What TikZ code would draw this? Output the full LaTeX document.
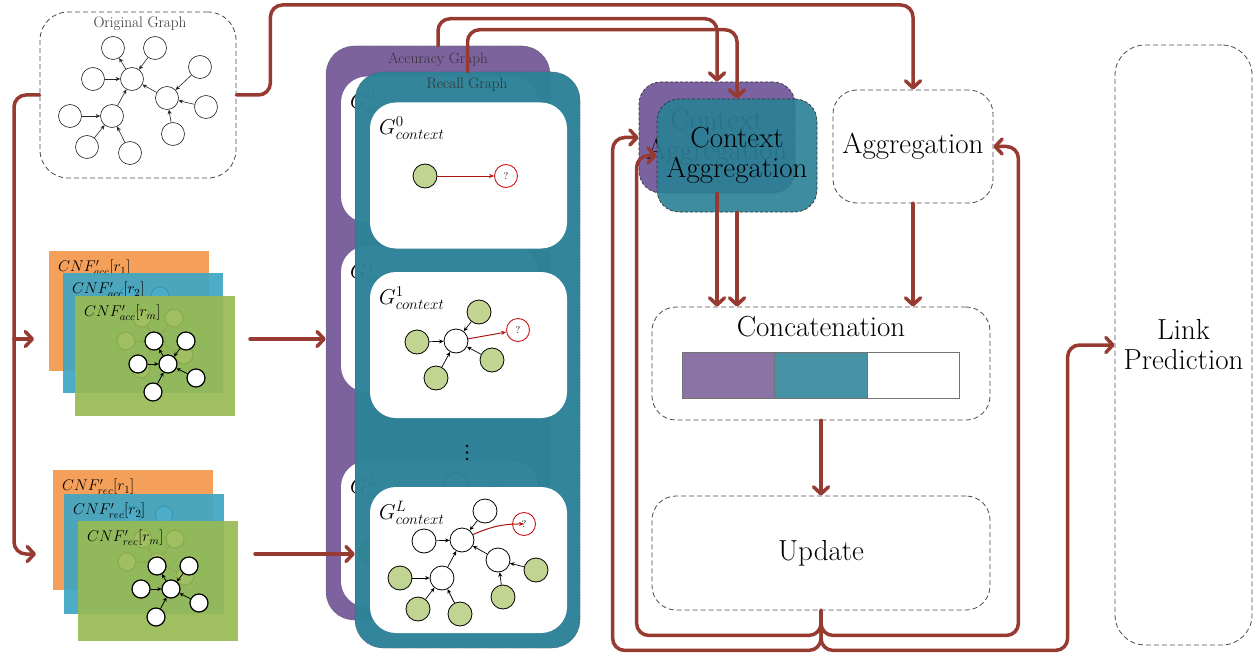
\documentclass[tikz,border=0pt]{standalone}
\DeclareFontShape{OML}{cmm}{m}{it}{<-6>cmmi5<6-7>cmmi6<7-8>cmmi7<8-9>cmmi8<9-10>cmmi9<10-12>cmmi10<12->cmmi12}{}
\DeclareFontShape{OMS}{cmsy}{m}{n}{<-6>cmsy5<6-7>cmsy6<7-8>cmsy7<8-9>cmsy8<9-10>cmsy9<10->cmsy10}{}
\DeclareFontShape{OT1}{cmr}{m}{n}{<-6>cmr5<6-7>cmr6<7-8>cmr7<8-9>cmr8<9-10>cmr9<10-12>cmr10<12-17>cmr12<17->cmr17}{}
\usetikzlibrary{arrows.meta,calc}
\definecolor{conncol}{RGB}{150,58,50}
\definecolor{accpurple}{RGB}{124,99,158}
\definecolor{recteal}{RGB}{44,130,151}
\definecolor{capurple}{RGB}{123,98,160}
\definecolor{cateal}{RGB}{42,128,149}
\definecolor{lorange}{RGB}{245,160,90}
\definecolor{lblue}{RGB}{62,166,196}
\definecolor{lgreen}{RGB}{152,186,84}
\definecolor{ngreen}{RGB}{193,212,146}
\definecolor{qred}{RGB}{200,25,25}
\definecolor{barpurple}{RGB}{139,115,166}
\definecolor{barteal}{RGB}{72,146,166}
\newcommand{\bigfnt}{\fontsize{29}{30}\selectfont}
\newcommand{\smallfnt}{\fontsize{15.2}{17}\selectfont}
\newcommand{\glabfnt}{\fontsize{21.5}{24}\selectfont}
\newcommand{\cnffnt}{\fontsize{15.5}{18}\selectfont}
\tikzset{
  conn/.style={draw=conncol, line width=3.5pt, rounded corners=12pt, line cap=round,
    -{Straight Barb[length=7pt,width=15pt,round]}},
  dbox/.style={draw=black!70, dash pattern=on 5pt off 3pt, line width=0.8pt,
    rounded corners=24pt, fill=white, inner sep=0pt, align=center, font=\bigfnt},
  cabox/.style={draw=black!80, dash pattern=on 3pt off 2pt, line width=0.7pt,
    rounded corners=22pt, inner sep=0pt, align=center, font=\bigfnt},
  gbox/.style={draw=black!70, densely dotted, line width=0.5pt, rounded corners=28pt, inner sep=0pt},
  wbox/.style={rectangle, rounded corners=26pt, fill=white, minimum width=197pt,
    minimum height=146pt, inner sep=0pt},
  smallt/.style={font=\smallfnt, text=black!80, inner sep=0pt},
  glab/.style={font=\glabfnt, anchor=west, inner sep=0pt},
  cnflab/.style={font=\cnffnt, anchor=west, inner sep=0pt},
  cnfrect/.style={rectangle, minimum width=160pt, minimum height=120pt, inner sep=0pt, draw=none},
  cnfn/.style={circle, draw=black, line width=1.2pt, fill=white, minimum size=18pt, inner sep=0pt},
  cnfe/.style={draw=black, line width=0.8pt, -{Stealth[length=4pt,width=4pt]}},
  onode/.style={circle, draw=black!85, line width=0.6pt, fill=white, minimum size=23pt, inner sep=0pt},
  oedge/.style={draw=black!85, line width=0.6pt, -{Stealth[length=4.5pt,width=4pt]}},
  gn/.style={circle, draw=black, line width=0.8pt, fill=ngreen, minimum size=24pt, inner sep=0pt},
  wn/.style={circle, draw=black, line width=0.8pt, fill=white, minimum size=24pt, inner sep=0pt},
  qn/.style={circle, draw=qred, line width=0.9pt, fill=white, minimum size=23pt, inner sep=0pt,
    font=\fontsize{10}{12}\selectfont},
  gedge/.style={draw=black, line width=0.7pt, -{Stealth[length=4.5pt,width=4pt]}},
  qedge/.style={draw=qred!85!black, line width=1pt, -{Stealth[length=5pt,width=4pt]}},
  gdot/.style={circle, fill=black, minimum size=2.6pt, inner sep=0pt},
  barseg/.style={rectangle, draw=black!55, line width=0.7pt, minimum height=46pt, inner sep=0pt},
}
\newcommand{\cnflayer}[4]{%
  \begin{scope}[shift={#1}, name prefix=#4-]
    \node[cnfrect, #2] (rect) at (80,60) {};
    \node[cnflab] (lab) at (9,17) {$#3$};
    \node[cnfn] (c) at (93,68) {};
    \node[cnfn] (tl) at (79,45) {};
    \node[cnfn] (tr) at (111,45) {};
    \node[cnfn] (l) at (63,68) {};
    \node[cnfn] (b) at (78,96) {};
    \node[cnfn] (r) at (121,82) {};
    \draw[cnfe] (l) -- (c);
    \draw[cnfe] (tr) -- (c);
    \draw[cnfe] (r) -- (c);
    \draw[cnfe] (b) -- (c);
    \draw[cnfe] (c) -- (tl);
  \end{scope}}
\newcommand{\gcontent}{%
  \node[wbox] (w0) at (468.5,175.5) {};
  \node[wbox] (w1) at (468.5,345) {};
  \node[wbox] (w2) at (468.5,560) {};
  \node[glab] (l0) at (379,128) {$G^{0}_{context}$};
  \node[glab] (l1) at (379,298) {$G^{1}_{context}$};
  \node[glab] (l2) at (379,513) {$G^{L}_{context}$};
  \node[gn] (g0a) at (425,176) {};
  \node[qn] (g0q) at (506,176) {?};
  \draw[qedge] (g0a) -- (g0q);
  \node[wn] (g1c) at (456,341) {};
  \node[gn] (g1a) at (417,342) {};
  \node[gn] (g1b) at (479,312) {};
  \node[gn] (g1d) at (492,360) {};
  \node[gn] (g1e) at (436,378) {};
  \node[qn] (g1q) at (518,330) {?};
  \draw[gedge] (g1a) -- (g1c);
  \draw[gedge] (g1b) -- (g1c);
  \draw[gedge] (g1d) -- (g1c);
  \draw[gedge] (g1e) -- (g1c);
  \draw[qedge] (g1c) -- (g1q);
  \node[wn] (gLt) at (485,511) {};
  \node[wn] (gLc) at (462,540) {};
  \node[wn] (gLl) at (424,541) {};
  \node[wn] (gLw) at (442,578) {};
  \node[wn] (gLr) at (498,560) {};
  \node[gn] (gL1) at (400,578) {};
  \node[gn] (gL2) at (418,609) {};
  \node[gn] (gL3) at (460,614) {};
  \node[gn] (gL4) at (536,570) {};
  \node[gn] (gL5) at (503,597) {};
  \node[qn] (gLq) at (524,524) {?};
  \draw[gedge] (gLt) -- (gLc);
  \draw[gedge] (gLl) -- (gLc);
  \draw[gedge] (gLw) -- (gLc);
  \draw[gedge] (gLr) -- (gLc);
  \draw[gedge] (gL1) -- (gLw);
  \draw[gedge] (gL2) -- (gLw);
  \draw[gedge] (gL3) -- (gLw);
  \draw[gedge] (gL4) -- (gLr);
  \draw[gedge] (gL5) -- (gLr);
  \draw[qedge] (gLc) to[bend left=12] (gLq);
  \node[gdot] (d1) at (467,446) {};
  \node[gdot] (d2) at (467,452.5) {};
  \node[gdot] (d3) at (467,459) {};
}
\begin{document}
\begin{tikzpicture}[x=1pt,y=-1pt]
\fill[white] (0,0) rectangle (1258,658);
\useasboundingbox (0,0) rectangle (1258,658);

% Original graph
\node[dbox, minimum width=196pt, minimum height=166pt, rounded corners=28pt] (orig) at (138,95) {};
\node[smallt] (origt) at (140,24) {Original Graph};
\node[onode] (o1) at (113,48) {};
\node[onode] (o2) at (155,48) {};
\node[onode] (o3) at (93,79) {};
\node[onode] (c1) at (132,79) {};
\node[onode] (o4) at (200,67) {};
\node[onode] (c2) at (167,98) {};
\node[onode] (o5) at (206,107) {};
\node[onode] (o6) at (70,116) {};
\node[onode] (c3) at (112,116) {};
\node[onode] (o7) at (173,134) {};
\node[onode] (o8) at (87,147) {};
\node[onode] (o9) at (130,153) {};
\draw[oedge] (o3) -- (c1);
\draw[oedge] (c1) -- (o1);
\draw[oedge] (o2) -- (c1);
\draw[oedge] (c2) -- (c1);
\draw[oedge] (c3) -- (c1);
\draw[oedge] (o4) -- (c2);
\draw[oedge] (o5) -- (c2);
\draw[oedge] (o7) -- (c2);
\draw[oedge] (o6) -- (c3);
\draw[oedge] (o8) -- (c3);
\draw[oedge] (o9) -- (c3);

% CNF stacks
\cnflayer{(49,251)}{fill=lorange}{CNF'_{acc}[r_1]}{a1}
\cnflayer{(63,273)}{fill=lblue,fill opacity=0.92}{CNF'_{acc}[r_2]}{a2}
\cnflayer{(75,296)}{fill=lgreen,fill opacity=0.92}{CNF'_{acc}[r_m]}{a3}
\cnflayer{(53,470)}{fill=lorange}{CNF'_{rec}[r_1]}{b1}
\cnflayer{(64,494)}{fill=lblue,fill opacity=0.92}{CNF'_{rec}[r_2]}{b2}
\cnflayer{(78,521)}{fill=lgreen,fill opacity=0.92}{CNF'_{rec}[r_m]}{b3}

% Accuracy graph
\node[gbox, fill=accpurple, minimum width=224pt, minimum height=574pt] (acc) at (438,333) {};
\node[smallt] (acct) at (438,60) {Accuracy Graph};
\begin{scope}[shift={(-29,-26)}, name prefix=a-]
  \gcontent
\end{scope}
% Recall graph
\node[gbox, fill=recteal, fill opacity=0.97, minimum width=225pt, minimum height=576pt] (rec) at (467.5,360) {};
\node[smallt] (rectitle) at (467,85) {Recall Graph};
\begin{scope}[name prefix=r-]
  \gcontent
\end{scope}

% Context aggregation
\node[cabox, fill=capurple, minimum width=156pt, minimum height=111pt] (caP) at (717,137.5) {Context\\Aggregation};
\node[cabox, fill=cateal, fill opacity=0.9, text opacity=1, minimum width=160pt, minimum height=113pt] (caT) at (737,155.5) {Context\\Aggregation};

% Right boxes
\node[dbox, minimum width=160pt, minimum height=113pt] (agg) at (913,146.5) {Aggregation};
\node[dbox, minimum width=338pt, minimum height=113pt] (concat) at (821,363.5) {};
\node[font=\bigfnt, inner sep=0pt] (concatt) at (821,327) {Concatenation};
\node[barseg, fill=barpurple, minimum width=92pt] (bar1) at (728,375) {};
\node[barseg, fill=barteal, minimum width=93pt] (bar2) at (820.5,375) {};
\node[barseg, fill=white, minimum width=92pt] (bar3) at (913,375) {};
\node[dbox, minimum width=338pt, minimum height=114pt] (update) at (821,553) {Update};
\node[dbox, minimum width=137pt, minimum height=600pt, rounded corners=30pt] (link) at (1183.5,345) {Link\\Prediction};

% free ends
\coordinate (splitL) at (14,339);
\coordinate (accIn) at (34,339);
\coordinate (recIn) at (36,554);
\coordinate (accOut) at (250,339);
\coordinate (recOut) at (255,554);

% connectors
\draw[conn] (orig.west) -- (orig.west -| splitL) -- (splitL |- recIn) -- (recIn);
\draw[conn] (splitL) -- (accIn);
\draw[conn] (accOut) -- (accOut -| acc.west);
\draw[conn] (recOut) -- (recOut -| rec.west);
\draw[conn] (orig.east) -- ++(34,0) -- ++(0,-90) -| (agg.north);
\draw[conn] (acc.north) -- ++(0,-27) -| (caP.north);
\draw[conn] (rec.north) -- ++(0,-42) -| (caT.north);
\draw[conn] (caP.south) -- (caP.south |- concat.north);
\draw[conn] (caT.south) -- (caT.south |- concat.north);
\draw[conn] (agg.south) -- (agg.south |- concat.north);
\draw[conn] (concat.south) -- (update.north);
\draw[conn] (update.south) -- ++(0,25) -| ($(caT.west)+(-20,0)$) -- (caT.west);
\draw[conn] (update.south) -- ++(0,25) -| ($(agg.east)+(25,0)$) -- (agg.east);
\draw[conn] (update.south) -- ++(0,40) -| ($(caP.west)+(-26,0)$) -- (caP.west);
\draw[conn] (update.south) -- ++(0,40) -| ($(link.west)+(-47,0)$) -- (link.west);
\end{tikzpicture}
\end{document}
